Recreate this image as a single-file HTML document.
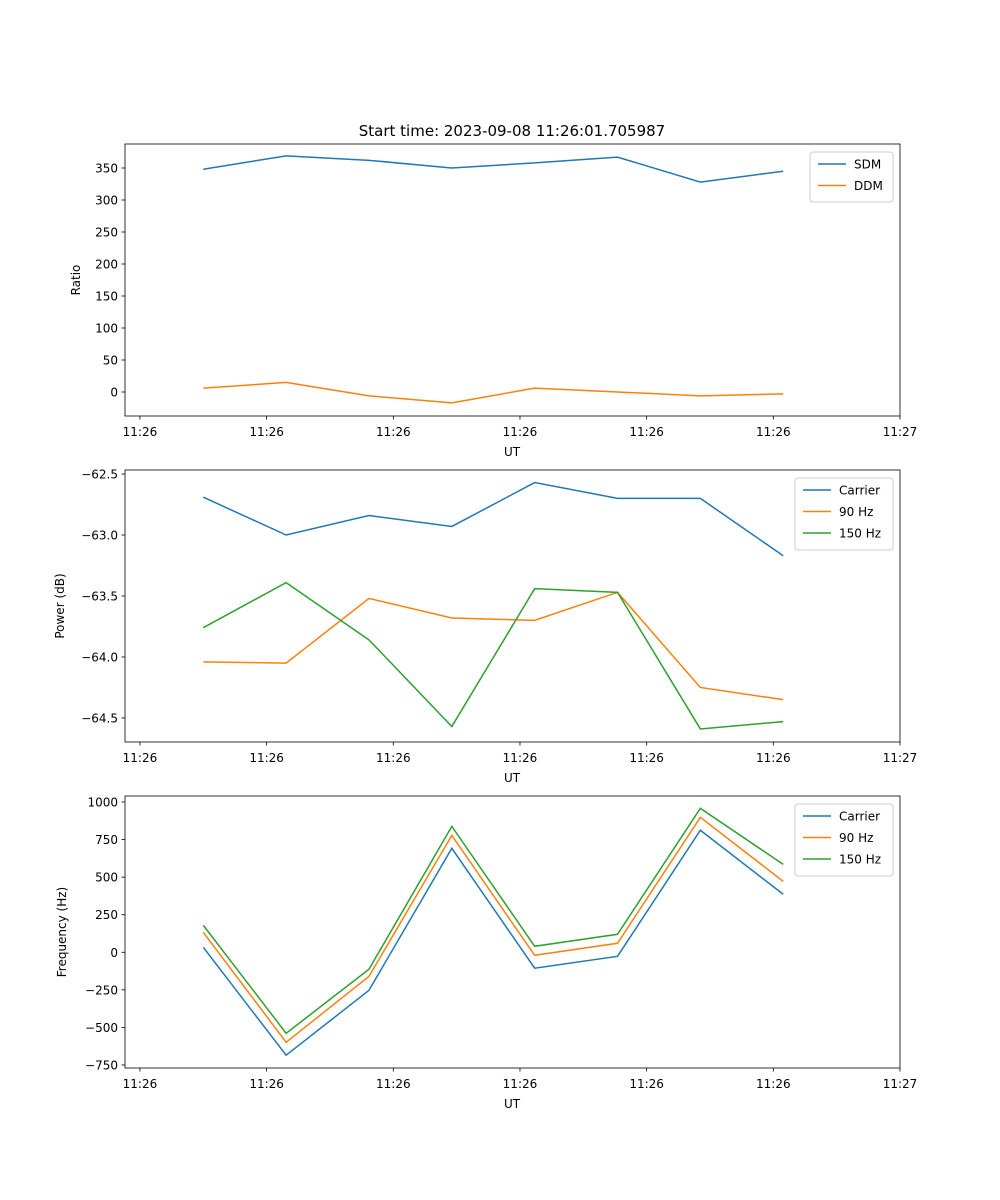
<!DOCTYPE html>
<html><head><meta charset="utf-8"><style>
body{margin:0;background:#fff}
svg{display:block;font-family:"DejaVu Sans","Liberation Sans",sans-serif}
</style></head><body>
<svg id="c" width="1000" height="1200" xmlns="http://www.w3.org/2000/svg">
<text x="512" y="136" font-size="15" text-anchor="middle">Start time: 2023-09-08 11:26:01.705987</text>
</svg>
<script>
const times = [5.0, 11.54, 18.08, 24.62, 31.16, 37.7, 44.24, 50.78];
const xTickVals = [0, 10, 20, 30, 40, 50, 60];
const xTickLabels = ["11:26","11:26","11:26","11:26","11:26","11:26","11:27"];
const sdm = [348, 369, 362, 350, 358, 367, 328, 345];
const ddm = [6, 15, -6, -17, 6, 0, -6, -3];
const pCarrier = [-62.69, -63.0, -62.84, -62.93, -62.57, -62.70, -62.70, -63.17];
const p90 = [-64.04, -64.05, -63.52, -63.68, -63.70, -63.47, -64.25, -64.35];
const p150 = [-63.76, -63.39, -63.86, -64.57, -63.44, -63.47, -64.59, -64.53];
const fCarrier = [33, -685, -253, 692, -106, -27, 812, 386];
const f90 = [133, -599, -160, 778, -20, 60, 898, 472];
const f150 = [180, -539, -113, 838, 40, 120, 958, 585];
const ratioTicks = [0, 50, 100, 150, 200, 250, 300, 350];
const powerTicks = [-62.5, -63.0, -63.5, -64.0, -64.5];
const freqTicks = [1000, 750, 500, 250, 0, -250, -500, -750];

const svg = document.getElementById('c');
const NS = 'http://www.w3.org/2000/svg';
function el(t, a, txt){const e=document.createElementNS(NS,t);for(const k in a)e.setAttribute(k,a[k]);if(txt!==undefined)e.textContent=txt;svg.appendChild(e);return e;}
const X0=125,X1=900,xmin=-1.18,xmax=60;
function sx(v){return X0+(v-xmin)/(xmax-xmin)*(X1-X0);}
function fmt(v,dec){return (v<0?'\u2212':'')+Math.abs(v).toFixed(dec);}

function panel(name, top, bot, ymin, ymax, ticks, dec, ylabel, series, legend){
  const sy=v=>bot-(v-ymin)/(ymax-ymin)*(bot-top);
  for(let i=0;i<series.length;i++){
    const s=series[i];
    const p=el('polyline',{points:s.vals.map((v,j)=>sx(times[j])+','+sy(v)).join(' '),fill:'none',stroke:s.color,'stroke-width':1.5});
    
    
  }
  const f=el('rect',{x:X0,y:top,width:X1-X0,height:bot-top,fill:'none',stroke:'#000','stroke-width':0.8});
  
  
  xTickVals.forEach((v,i)=>{
    el('line',{x1:sx(v),x2:sx(v),y1:bot,y2:bot+3.5,stroke:'#000','stroke-width':0.8});
    const t=el('text',{x:sx(v),y:bot+20,'font-size':12,'text-anchor':'middle'},xTickLabels[i]);
    
    
  });
  const xl=el('text',{x:512,y:bot+40,'font-size':12,'text-anchor':'middle'},'UT');
  
  
  ticks.forEach(v=>{
    el('line',{x1:X0-3.5,x2:X0,y1:sy(v),y2:sy(v),stroke:'#000','stroke-width':0.8});
    const t=el('text',{x:X0-7,y:sy(v)+4.5,'font-size':12,'text-anchor':'end'},fmt(v,dec));
    
    
  });
  const yl=el('text',{x:0,y:0,'font-size':12,'text-anchor':'middle',transform:`translate(${legend.ylx},${(top+bot)/2}) rotate(-90)`},ylabel);
  
  
  const lg=el('rect',{x:legend.x,y:top+8,width:893-legend.x,height:series.length*22+6,rx:3,fill:'#fff',stroke:'#ccc','stroke-width':1});
  
  
  series.forEach((s,i)=>{
    const y=top+20+i*21.5;
    el('line',{x1:legend.x+8,x2:legend.x+36,y1:y,y2:y,stroke:s.color,'stroke-width':1.5});
    const t=el('text',{x:legend.x+44,y:y+4.5,'font-size':12},s.label);
    
    
  });
}
const B='#1f77b4',O='#ff7f0e',G='#2ca02c';
panel('ratio-panel',144,416,-37.5,387.5,ratioTicks,0,'Ratio',
  [{key:'sdm',label:'SDM',vals:sdm,color:B},{key:'ddm',label:'DDM',vals:ddm,color:O}],{x:810,ylx:80});
panel('power-panel',470,742,-64.697,-62.467,powerTicks,1,'Power (dB)',
  [{key:'carrier',label:'Carrier',vals:pCarrier,color:B},{key:'90hz',label:'90 Hz',vals:p90,color:O},{key:'150hz',label:'150 Hz',vals:p150,color:G}],{x:795,ylx:64});
panel('frequency-panel',796,1068,-770,1040,freqTicks,0,'Frequency (Hz)',
  [{key:'carrier',label:'Carrier',vals:fCarrier,color:B},{key:'90hz',label:'90 Hz',vals:f90,color:O},{key:'150hz',label:'150 Hz',vals:f150,color:G}],{x:795,ylx:66});
</script>
</body></html>
